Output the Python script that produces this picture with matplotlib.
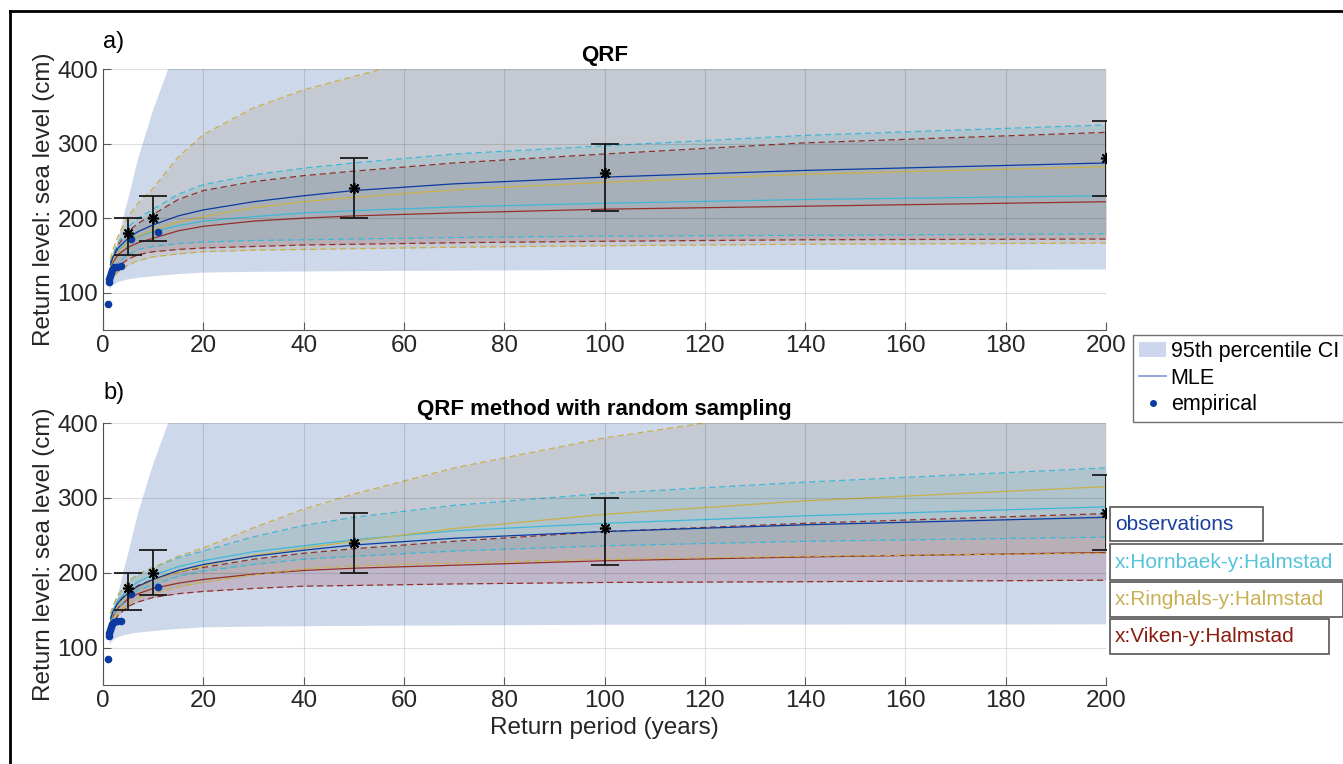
import matplotlib
matplotlib.use("Agg")
import matplotlib.pyplot as plt
from matplotlib.lines import Line2D
from matplotlib.patches import Patch, Rectangle

plt.rcParams['font.family'] = ['Liberation Sans', 'DejaVu Sans']

W, H = 1343, 764

rp = [1.5, 2, 3, 5, 7, 10, 15, 20, 30, 40, 50, 70, 100, 140, 200]

# observations: MLE curve, 95th percentile CI band, empirical points
obs_mle = [138, 148, 160, 173, 182, 191, 203, 211, 222, 230, 237, 246, 255, 264, 274]
ci_rp = [1.3, 1.5, 2, 3, 4, 5, 7, 10, 13, 20, 30, 50, 100, 200]
ci_low = [103, 106, 110, 114, 116, 118, 120, 122, 124, 127, 128, 129, 130.5, 131]
ci_up = [105, 118, 140, 170, 200, 225, 280, 345, 400, 510, 620, 780, 1050, 1400]
emp_rp = [1.0, 1.1, 1.22, 1.375, 1.57, 1.83, 2.2, 2.75, 3.67, 5.5, 11]
emp_lvl = [85, 115, 119, 123, 127, 131, 134, 135, 136, 172, 181]

# error bars
eb_rp = [5, 10, 50, 100, 200]
eb_mid = [180, 200, 240, 260, 280]
eb_lo = [150, 170, 200, 210, 230]
eb_hi = [200, 230, 280, 300, 330]

# a) QRF
a_horn_mle = [137, 146, 157, 168, 175, 182, 190, 196, 202, 207, 210, 215, 220, 225, 230]
a_horn_lo = [122, 130, 140, 151, 158, 162, 166, 168, 170, 171, 172, 174, 176, 177, 179]
a_horn_hi = [142, 152, 167, 188, 200, 212, 232, 245, 258, 267, 274, 286, 297, 311, 325]
a_ring_mle = [136, 144, 155, 167, 176, 184, 195, 202, 214, 222, 228, 238, 248, 259, 269]
a_ring_lo = [112, 120, 128, 137, 143, 148, 152, 155, 157, 158, 159, 161, 163, 165, 166.5]
a_ring_hi = [145, 158, 176, 202, 220, 240, 282, 312, 348, 372, 390, 425, 470, 520, 580]
a_vik_mle = [134, 141, 151, 161, 167, 173, 183, 189, 196, 200, 203, 207, 212, 216, 222]
a_vik_lo = [118, 126, 135, 145, 151, 155, 158, 160, 162, 164, 165, 167, 169, 171, 172]
a_vik_hi = [140, 150, 164, 182, 193, 205, 225, 237, 249, 257, 263, 274, 286, 301, 315]

# b) QRF with random sampling
b_horn_mle = [140, 150, 163, 178, 188, 197, 208, 216, 228, 236, 244, 256, 266, 276, 288]
b_horn_lo = [132, 141, 153, 167, 177, 184, 195, 202, 211, 218, 222, 229, 236, 242, 247.5]
b_horn_hi = [145, 155, 170, 188, 198, 207, 220, 229, 248, 263, 274, 290, 306, 321, 340]
b_ring_mle = [136, 145, 157, 172, 181, 190, 201, 209, 223, 233, 242, 259, 278, 296, 315]
b_ring_lo = [128, 136, 146, 158, 166, 172, 181, 187, 197, 205, 209, 213, 218, 222, 226]
b_ring_hi = [145, 155, 170, 188, 198, 207, 222, 233, 260, 285, 305, 340, 380, 420, 470]
b_vik_mle = [134, 142, 153, 165, 172, 179, 186, 191, 198, 203, 206, 210, 216, 221, 227]
b_vik_lo = [125, 133, 143, 155, 161, 167, 172, 175, 179, 182, 183, 185, 187, 188, 190]
b_vik_hi = [140, 149, 161, 174, 183, 191, 201, 207, 218, 226, 232, 242, 255, 266, 279]

c_obs = '#0b3aa0'
c_horn = '#3fb8d8'
c_ring = '#c9b04a'
c_vik = '#94302a'
f_obs = '#0b3d9e'
f_horn = '#4dbeda'
f_ring = '#a18d6a'
f_vik = '#8a3a4a'

FS = 17.5


def draw(ax, vik, horn, ring, title):
    ax.fill_between(ci_rp, ci_low, ci_up, color=f_obs, alpha=0.2, lw=0)
    models = [(vik, c_vik, f_vik), (horn, c_horn, f_horn), (ring, c_ring, f_ring)]
    # lines first, the translucent bands on top of them
    for (mle, lo, hi), col, fcol in models:
        ax.plot(rp, lo, color=col, lw=0.9, dashes=(5, 3))
        ax.plot(rp, hi, color=col, lw=0.9, dashes=(5, 3))
        ax.plot(rp, mle, color=col, lw=0.9)
    for (mle, lo, hi), col, fcol in models:
        ax.fill_between(rp, lo, hi, color=fcol, alpha=0.2, lw=0)
    ax.plot(rp, obs_mle, color=c_obs, lw=0.9)
    ax.plot(emp_rp, emp_lvl, 'o', ms=5.5, color=c_obs, mec='none')
    yerr = [[m - l for m, l in zip(eb_mid, eb_lo)], [h - m for m, h in zip(eb_mid, eb_hi)]]
    ax.errorbar(eb_rp, eb_mid, yerr=yerr, fmt='none', ecolor='#1a1a1a', capsize=10, elinewidth=1.3,
                capthick=1.3)
    ax.plot(eb_rp, eb_mid, ls='none', marker=(8, 2, 0), ms=8, color='k', mew=1.2)

    ax.set_xlim(0, 200)
    ax.set_ylim(50, 400)
    ax.set_xticks(range(0, 201, 20))
    ax.set_yticks([100, 200, 300, 400])
    ax.grid(True, color='k', alpha=0.12, lw=0.8)
    ax.set_axisbelow(False)
    for s in ['top', 'right']:
        ax.spines[s].set_visible(False)
    for s in ['left', 'bottom']:
        ax.spines[s].set_color('#5a5a5a')
    ax.tick_params(direction='in', length=6, color='#5a5a5a', labelsize=FS, labelcolor='#262626')
    ax.set_ylabel('Return level: sea level (cm)', fontsize=FS, color='#262626', labelpad=2)
    ax.set_title(title, fontsize=16, fontweight='bold', pad=6)


fig = plt.figure(figsize=(W / 100, H / 100), dpi=100)
left, right = 103 / W, 1106 / W
ax1 = fig.add_axes([left, 1 - 330 / H, right - left, 261 / H])
ax2 = fig.add_axes([left, 1 - 685 / H, right - left, 262 / H])

draw(ax1, (a_vik_mle, a_vik_lo, a_vik_hi), (a_horn_mle, a_horn_lo, a_horn_hi),
     (a_ring_mle, a_ring_lo, a_ring_hi), 'QRF')
draw(ax2, (b_vik_mle, b_vik_lo, b_vik_hi), (b_horn_mle, b_horn_lo, b_horn_hi),
     (b_ring_mle, b_ring_lo, b_ring_hi), 'QRF method with random sampling')
ax2.set_xlabel('Return period (years)', fontsize=FS, color='#262626', labelpad=4)

fig.text(103 / W, 1 - 42 / H, 'a)', fontsize=17, va='center', ha='left')
fig.text(103 / W, 1 - 393 / H, 'b)', fontsize=17, va='center', ha='left')

# legend of panel a
handles = [Patch(fc='#cdd6ec', ec='none'),
           Line2D([], [], color='#7f96d2', lw=1.2),
           Line2D([], [], marker='o', ls='none', color=c_obs, ms=4)]
fig.legend(handles, ['95th percentile CI', 'MLE', 'empirical'], loc='upper left',
           bbox_to_anchor=(1133 / W, 1 - 335 / H), fontsize=15.5, handlelength=1.25,
           handletextpad=0.2, labelspacing=0.25, borderpad=0.3, fancybox=False,
           framealpha=1, edgecolor='#707070', borderaxespad=0)

# series labels of panel b
names = ['observations', 'x:Hornbaek-y:Halmstad', 'x:Ringhals-y:Halmstad', 'x:Viken-y:Halmstad']
name_cols = ['#1a3f9f', '#55c3da', '#c9b055', '#8b1d0e']
boxes = [(1110, 507, 153, 34), (1110, 544, 240, 36), (1110, 582, 233, 35), (1110, 619, 219, 35)]
for name, col, (bx, by, bw, bh) in zip(names, name_cols, boxes):
    fig.add_artist(Rectangle((bx / W, 1 - (by + bh) / H), bw / W, bh / H, transform=fig.transFigure,
                             fc='white', ec='#555555', lw=1.2))
    fig.text((bx + 5) / W, 1 - (by + bh / 2) / H, name, color=col, fontsize=15, va='center')

# outer frame
fig.add_artist(Line2D([10 / W, 10 / W], [0, 1 - 11 / H], color='k', lw=2, transform=fig.transFigure))
fig.add_artist(Line2D([10 / W, 1], [1 - 11 / H, 1 - 11 / H], color='k', lw=2, transform=fig.transFigure))

fig.savefig('out.png', dpi=100)
